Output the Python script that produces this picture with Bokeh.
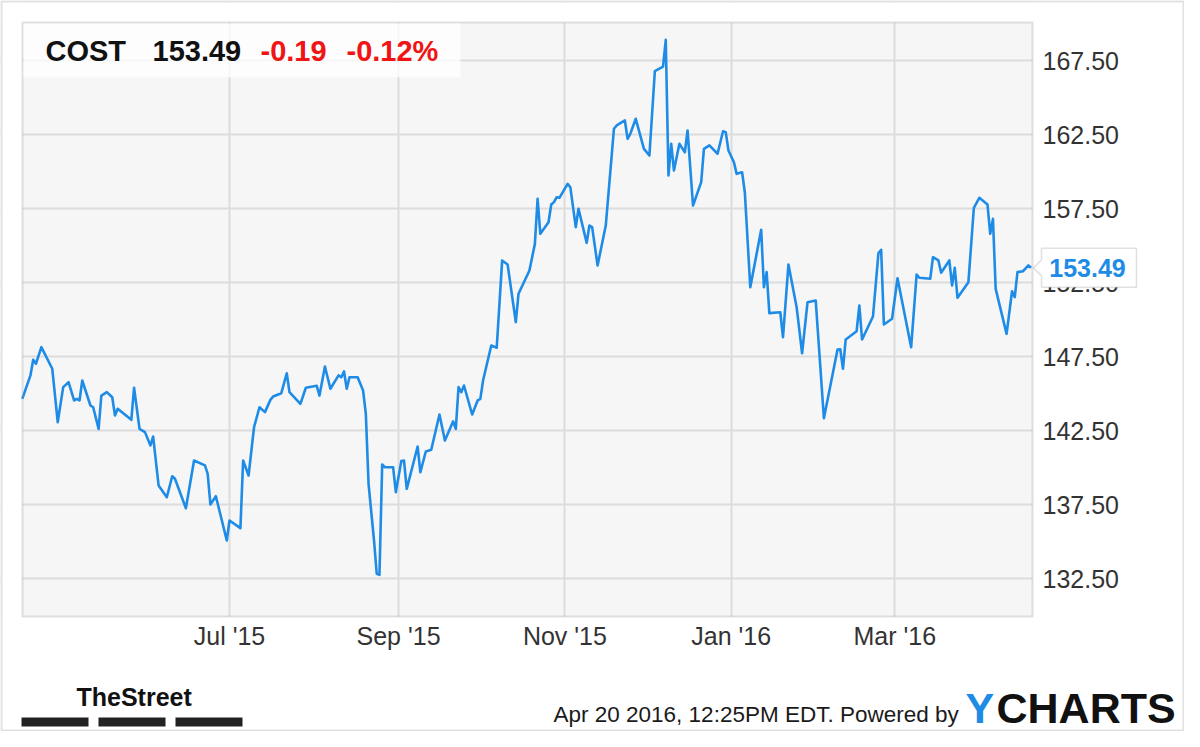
from datetime import datetime, timedelta
import pandas as pd
from bokeh.plotting import figure
from bokeh.models import (Range1d, FixedTicker, DatetimeTickFormatter, PrintfTickFormatter,
                          Label, BoxAnnotation, PolyAnnotation, ColumnDataSource)
from bokeh.embed import file_html
from bokeh.resources import INLINE

# ---------------- data ----------------
TICKER = "COST"
LAST_PRICE = 153.49
CHANGE = "-0.19"
CHANGE_PCT = "-0.12%"
FOOTER = "Apr 20 2016, 12:25PM EDT.  Powered by"

dates = [
    "2015-04-16", "2015-04-19", "2015-04-20", "2015-04-21", "2015-04-23", "2015-04-27", "2015-04-29",
    "2015-05-01", "2015-05-03", "2015-05-05", "2015-05-06", "2015-05-07", "2015-05-08", "2015-05-11",
    "2015-05-12", "2015-05-14", "2015-05-15", "2015-05-17", "2015-05-19", "2015-05-20", "2015-05-21",
    "2015-05-26", "2015-05-27", "2015-05-29", "2015-05-31", "2015-06-02", "2015-06-03", "2015-06-05",
    "2015-06-08", "2015-06-10", "2015-06-11", "2015-06-15", "2015-06-18", "2015-06-22", "2015-06-23",
    "2015-06-24", "2015-06-26", "2015-06-30", "2015-07-01", "2015-07-05", "2015-07-06", "2015-07-08",
    "2015-07-10", "2015-07-12", "2015-07-14", "2015-07-16", "2015-07-17", "2015-07-20", "2015-07-22",
    "2015-07-23", "2015-07-27", "2015-07-29", "2015-08-02", "2015-08-03", "2015-08-05", "2015-08-07",
    "2015-08-10", "2015-08-11", "2015-08-12", "2015-08-13", "2015-08-14", "2015-08-17", "2015-08-19",
    "2015-08-20", "2015-08-21", "2015-08-23", "2015-08-24", "2015-08-25", "2015-08-26", "2015-08-27",
    "2015-08-30", "2015-08-31", "2015-09-02", "2015-09-03", "2015-09-04", "2015-09-08", "2015-09-09",
    "2015-09-11", "2015-09-13", "2015-09-16", "2015-09-18", "2015-09-21", "2015-09-22", "2015-09-23",
    "2015-09-24", "2015-09-25", "2015-09-28", "2015-09-30", "2015-10-01", "2015-10-02", "2015-10-05",
    "2015-10-07", "2015-10-09", "2015-10-11", "2015-10-14", "2015-10-15", "2015-10-19", "2015-10-21",
    "2015-10-22", "2015-10-23", "2015-10-26", "2015-10-27", "2015-10-28", "2015-10-29", "2015-10-30",
    "2015-11-02", "2015-11-03", "2015-11-05", "2015-11-06", "2015-11-09", "2015-11-10", "2015-11-11",
    "2015-11-13", "2015-11-16", "2015-11-19", "2015-11-20", "2015-11-23", "2015-11-24", "2015-11-25",
    "2015-11-27", "2015-11-30", "2015-12-02", "2015-12-04", "2015-12-07", "2015-12-08", "2015-12-09",
    "2015-12-10", "2015-12-11", "2015-12-13", "2015-12-15", "2015-12-16", "2015-12-18", "2015-12-21",
    "2015-12-22", "2015-12-24", "2015-12-27", "2015-12-29", "2015-12-30", "2015-12-31", "2016-01-02",
    "2016-01-03", "2016-01-05", "2016-01-06", "2016-01-08", "2016-01-12", "2016-01-13", "2016-01-14",
    "2016-01-15", "2016-01-19", "2016-01-20", "2016-01-22", "2016-01-25", "2016-01-27", "2016-01-29",
    "2016-02-01", "2016-02-04", "2016-02-09", "2016-02-10", "2016-02-11", "2016-02-12", "2016-02-16",
    "2016-02-17", "2016-02-18", "2016-02-22", "2016-02-24", "2016-02-25", "2016-02-26", "2016-02-29",
    "2016-03-02", "2016-03-07", "2016-03-09", "2016-03-10", "2016-03-14", "2016-03-15", "2016-03-17",
    "2016-03-18", "2016-03-21", "2016-03-22", "2016-03-23", "2016-03-24", "2016-03-28", "2016-03-30",
    "2016-04-01", "2016-04-04", "2016-04-05", "2016-04-06", "2016-04-07", "2016-04-11", "2016-04-13",
    "2016-04-14", "2016-04-15", "2016-04-17", "2016-04-19", "2016-04-20",
]

prices = [
    144.64, 146.22, 147.28, 147.01, 148.13, 146.67, 143.06,
    145.43, 145.76, 144.53, 144.64, 144.53, 145.88, 144.19,
    144.07, 142.61, 144.86, 145.09, 144.75, 143.51, 143.97,
    143.22, 145.39, 142.61, 142.39, 141.49, 142.09, 138.78,
    137.99, 139.41, 139.24, 137.25, 140.47, 140.14, 139.57,
    137.50, 138.06, 135.07, 136.42, 135.90, 140.47, 139.46,
    142.72, 144.07, 143.74, 144.57, 144.80, 145.02, 146.37,
    145.09, 144.30, 145.39, 145.52, 144.86, 146.82, 145.32,
    146.22, 146.10, 146.49, 145.32, 146.10, 146.10, 145.20,
    143.63, 138.90, 135.07, 132.82, 132.75, 140.20, 140.02,
    140.02, 138.33, 140.43, 140.47, 138.56, 141.42, 139.68,
    141.08, 141.20, 143.58, 141.82, 143.11, 142.61, 145.43,
    145.09, 145.54, 143.58, 144.53, 144.64, 145.88, 148.24,
    148.09, 153.99, 153.72, 149.82, 151.74, 153.31, 155.11,
    158.16, 155.79, 156.57, 157.77, 157.93, 158.26, 158.22,
    159.17, 158.94, 156.24, 157.48, 155.18, 156.35, 156.24,
    153.65, 156.35, 162.89, 163.11, 163.45, 162.21, 162.55,
    163.56, 161.53, 161.08, 166.78, 167.09, 168.90, 159.73,
    161.87, 160.07, 161.87, 161.30, 162.77, 157.70, 159.28,
    161.53, 161.76, 161.20, 162.72, 162.66, 161.42, 160.63,
    159.84, 159.95, 158.60, 152.18, 156.06, 152.18, 153.20,
    150.43, 150.49, 148.80, 153.72, 150.83, 147.72, 151.17,
    151.28, 143.33, 147.97, 147.99, 146.67, 148.65, 149.21,
    150.95, 148.65, 150.20, 154.48, 154.71, 149.66, 150.05,
    152.79, 148.13, 153.04, 152.82, 152.75, 154.21, 153.99,
    153.16, 153.99, 152.30, 153.49, 151.47, 152.52, 157.55,
    158.22, 157.77, 155.79, 156.80, 152.07, 149.03, 151.91,
    151.51, 153.20, 153.26, 153.65, 153.49,
]

x_tick_dates = ["2015-07-01", "2015-09-01", "2015-11-01", "2016-01-01", "2016-03-01"]
y_ticks = [132.5, 137.5, 142.5, 147.5, 152.5, 157.5, 162.5, 167.5]

# ---------------- layout / style ----------------
W, H = 1184, 731
# chart area (pixels from the top-left of the canvas)
CL, CT, CR, CB = 22, 22, 1032, 616
# scale: pixels per day / per dollar, and one reference point for each
X0 = datetime(2015, 7, 1)
X0_PX = 229.0
PX_PER_DAY = 2.7266
Y0_VAL = 167.5
Y0_PX = 60.0
PX_PER_USD = 14.8
FOOT_DY = -6  # footer shifted up a little so that it fits the canvas


def px_to_date(px):
    return X0 + timedelta(days=(px - X0_PX) / PX_PER_DAY)


def py_to_val(py):
    return Y0_VAL - (py - Y0_PX) / PX_PER_USD


def val_to_py(v):
    return Y0_PX + (Y0_VAL - v) * PX_PER_USD


def sx(px):
    return px


def sy(py):
    return H - py


def mid(baseline_py, size):
    # vertical middle of a text line whose baseline is at baseline_py
    return sy(baseline_py - 0.35 * size)


def ms(d):
    return pd.Timestamp(d).value / 1e6


BLUE = "#1e8ce6"
RED = "#f01414"
GRAY = "#9a9a9a"
FONT = "Liberation Sans"

src = ColumnDataSource(data=dict(date=pd.to_datetime(dates), price=prices))

p = figure(width=W, height=H, x_axis_type="datetime", y_axis_location="right",
           x_range=Range1d(px_to_date(0), px_to_date(W)),
           y_range=Range1d(py_to_val(H), py_to_val(0)),
           output_backend="svg", toolbar_location=None,
           min_border_left=0, min_border_right=0, min_border_top=0, min_border_bottom=0)

p.background_fill_color = "#f6f6f6"
p.border_fill_color = "white"
p.outline_line_color = None

p.xaxis.ticker = FixedTicker(ticks=[ms(d) for d in x_tick_dates])
fmt = "%b '%y"
p.xaxis.formatter = DatetimeTickFormatter(days=fmt, months=fmt, years=fmt, hours=fmt,
                                          minutes=fmt, seconds=fmt, milliseconds=fmt,
                                          microseconds=fmt, minsec=fmt, hourmin=fmt)
p.yaxis.ticker = FixedTicker(ticks=y_ticks)
p.yaxis.formatter = PrintfTickFormatter(format="%.2f")
p.xaxis.fixed_location = py_to_val(CB)
p.yaxis.fixed_location = ms(px_to_date(CR))

for ax in (p.xaxis, p.yaxis):
    ax.axis_line_color = None
    ax.major_tick_line_color = None
    ax.minor_tick_line_color = None
    ax.major_tick_out = 0
    ax.major_tick_in = 0
    ax.major_label_text_font = FONT
    ax.major_label_text_font_size = "25px"
    ax.major_label_text_color = "#333333"
p.xaxis.major_label_standoff = 5
p.yaxis.major_label_standoff = 10

p.xgrid.grid_line_color = "#dcdcdc"
p.xgrid.grid_line_width = 2
p.ygrid.grid_line_color = "#dcdcdc"
p.ygrid.grid_line_width = 2


def box(l, r, t, b, **kw):
    return BoxAnnotation(left=sx(l), right=sx(r), top=sy(t), bottom=sy(b),
                         left_units="screen", right_units="screen",
                         top_units="screen", bottom_units="screen", **kw)


# white surroundings of the chart area (cover the grid outside it)
for l, r, t, b in [(0, CL, 0, H), (CR, W, 0, H), (0, W, 0, CT), (0, W, CB, H)]:
    p.add_layout(box(l, r, t, b, fill_color="white", fill_alpha=1.0, line_color=None,
                     level="underlay"))

p.line(x="date", y="price", source=src, line_color=BLUE, line_width=2.6, line_join="round")

# chart area border
p.add_layout(box(CL, CR, CT, CB, fill_alpha=0, line_color=GRAY, line_width=2))

# header box
p.add_layout(box(CL + 1, 460, CT + 1, 77, fill_color="white", fill_alpha=0.75, line_color=None))

for txt, xpos, col in [(TICKER, 45, "#111111"), (f"{LAST_PRICE:.2f}", 152, "#111111"),
                       (CHANGE, 260, RED), (CHANGE_PCT, 346, RED)]:
    p.add_layout(Label(x=sx(xpos), y=mid(61, 29), x_units="screen", y_units="screen", text=txt,
                       text_font=FONT, text_font_size="29px", text_font_style="bold",
                       text_color=col, text_baseline="middle", text_align="left"))

# last price tag
c = val_to_py(LAST_PRICE)
tag_x = [1033, 1041, 1041, 1136, 1136, 1041, 1041]
tag_y = [c, c - 8, c - 19.5, c - 19.5, c + 19.5, c + 19.5, c + 8]
p.add_layout(PolyAnnotation(xs=[sx(v) for v in tag_x], ys=[sy(v) for v in tag_y],
                            xs_units="screen", ys_units="screen",
                            fill_color="white", fill_alpha=1.0,
                            line_color=GRAY, line_width=1.5))
p.add_layout(Label(x=sx(1087), y=sy(c), x_units="screen", y_units="screen",
                   text=f"{LAST_PRICE:.2f}", text_font=FONT, text_font_size="25px",
                   text_font_style="bold", text_color=BLUE, text_align="center",
                   text_baseline="middle"))

# footer
p.add_layout(Label(x=sx(76), y=mid(711 + FOOT_DY, 25), x_units="screen", y_units="screen",
                   text="TheStreet", text_font=FONT, text_font_size="25px",
                   text_font_style="bold", text_color="#111111", text_baseline="middle"))
for x0, x1 in [(21, 88), (98, 165), (175, 242)]:
    p.add_layout(box(x0, x1, 723 + FOOT_DY, 732 + FOOT_DY, fill_color="#222222",
                     fill_alpha=1.0, line_color=None))
p.add_layout(Label(x=sx(553), y=mid(728 + FOOT_DY, 22.5), x_units="screen", y_units="screen",
                   text=FOOTER, text_font=FONT, text_font_size="22.5px", text_color="#1a1a1a",
                   text_baseline="middle"))
p.add_layout(Label(x=sx(965), y=mid(729 + FOOT_DY, 43), x_units="screen", y_units="screen",
                   text="Y", text_font=FONT, text_font_size="43px", text_font_style="bold",
                   text_color=BLUE, text_baseline="middle"))
p.add_layout(Label(x=sx(996), y=mid(729 + FOOT_DY, 43), x_units="screen", y_units="screen",
                   text="CHARTS", text_font=FONT, text_font_size="43px", text_font_style="bold",
                   text_color="#111111", text_baseline="middle"))

# outer border
p.add_layout(box(1, W - 1, 1, H - 1, fill_alpha=0, line_color=GRAY, line_width=2))

open("out.html", "w").write(file_html(p, INLINE))
